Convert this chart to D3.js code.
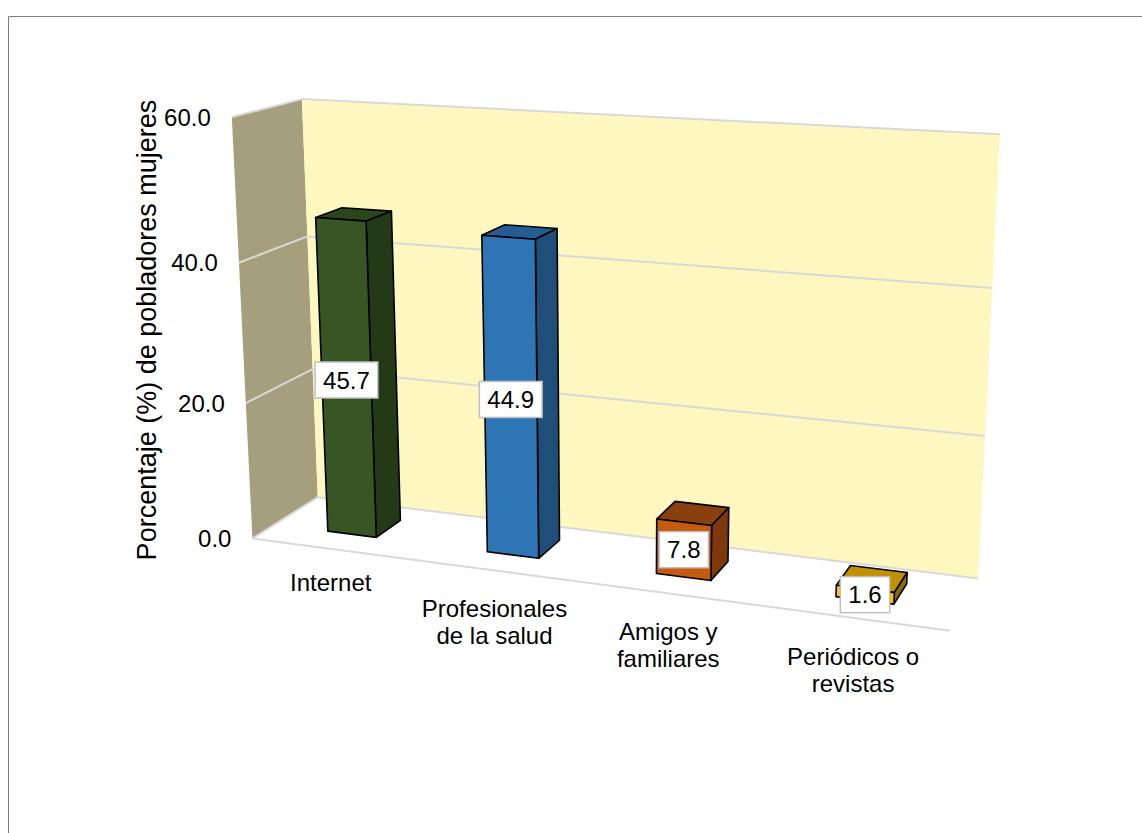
<!DOCTYPE html>
<html>
<head>
<meta charset="utf-8">
<script src="https://cdn.jsdelivr.net/npm/d3@7"></script>
<style>
  html, body { margin: 0; padding: 0; background: #ffffff; }
  svg { display: block; font-family: "Liberation Sans", Arial, Helvetica, sans-serif; }
</style>
</head>
<body>
<svg id="chart" width="1142" height="833"></svg>
<script>
// ---- data ----
const categories = ["Internet", "Profesionales de la salud", "Amigos y familiares", "Periódicos o revistas"];
const categoryLines = [["Internet"], ["Profesionales", "de la salud"], ["Amigos y", "familiares"], ["Periódicos o", "revistas"]];
const values = [45.7, 44.9, 7.8, 1.6];
const yTicks = [0, 20, 40, 60];

// ---- colours per bar: front / right side / top ----
const frontColors = ["#375623", "#2E75B6", "#C55A11", "#FFC000"];
const sideColors  = ["#243a16", "#1F4E79", "#7E380C", "#8C6A00"];
const topColors   = ["#2c461c", "#245d93", "#8A3F0E", "#BF9000"];

const W = 1142, H = 833;
const svg = d3.select("#chart");

// ---- 3D world: x across categories [0,1], y value [0,1], z depth front(0)->back(1) ----
const x = d3.scaleBand().domain(categories).range([0, 1]).paddingInner(0.69).paddingOuter(0.345);
const y = d3.scaleLinear().domain([0, 60]).range([0, 1]);
const barZ = [0.33, 0.73];

// perspective camera: 3x4 projective matrix solved from the corners of the plot box
const frame = [
  [0, 0, 0, 252, 538],
  [0, 0, 1, 318, 498],
  [1, 0, 1, 978, 578],
  [1, 0, 0, 950, 631],
  [0, 1, 0, 232, 117],
  [0, 1, 1, 301.7, 100],
  [1, 1, 1, 1000, 134.3],
  [0, 2 / 3, 0, 238.3, 262.7],
  [0, 2 / 3, 1, 307.3, 235],
  [0, 1 / 3, 0, 246.7, 403.3]
];

function solveCamera(pairs) {
  const s = 1000; // normalise screen units
  const rows = [], rhs = [];
  for (const [X, Y, Z, u0, v0] of pairs) {
    const u = u0 / s, v = v0 / s;
    rows.push([X, Y, Z, 1, 0, 0, 0, 0, -u * X, -u * Y, -u * Z]); rhs.push(u);
    rows.push([0, 0, 0, 0, X, Y, Z, 1, -v * X, -v * Y, -v * Z]); rhs.push(v);
  }
  const n = 11;
  const M = Array.from({ length: n }, () => new Array(n + 1).fill(0));
  rows.forEach((r, k) => {
    for (let i = 0; i < n; i++) {
      for (let j = 0; j < n; j++) M[i][j] += r[i] * r[j];
      M[i][n] += r[i] * rhs[k];
    }
  });
  for (let c = 0; c < n; c++) {
    let piv = c;
    for (let r = c + 1; r < n; r++) if (Math.abs(M[r][c]) > Math.abs(M[piv][c])) piv = r;
    [M[c], M[piv]] = [M[piv], M[c]];
    for (let r = 0; r < n; r++) {
      if (r === c) continue;
      const f = M[r][c] / M[c][c];
      for (let k = c; k <= n; k++) M[r][k] -= f * M[c][k];
    }
  }
  const p = M.map((row, i) => row[n] / row[i]);
  return function (X, Y, Z) {
    const w = p[8] * X + p[9] * Y + p[10] * Z + 1;
    return [s * (p[0] * X + p[1] * Y + p[2] * Z + p[3]) / w,
            s * (p[4] * X + p[5] * Y + p[6] * Z + p[7]) / w];
  };
}
const project = solveCamera(frame);
const poly = pts => "M" + pts.map(q => project(q[0], q[1], q[2]).join(",")).join("L") + "Z";
const seg = (a, b) => {
  const p0 = project(...a), p1 = project(...b);
  return `M${p0[0]},${p0[1]}L${p1[0]},${p1[1]}`;
};

// ---- outer border ----
svg.append("path").attr("d", `M8.5,${H}L8.5,16.5L${W},16.5`)
  .attr("fill", "none").attr("stroke", "#7f7f7f").attr("stroke-width", 1);

// ---- walls ----
svg.append("path").attr("d", poly([[0, 0, 0], [0, 0, 1], [0, 1, 1], [0, 1, 0]]))
  .attr("fill", "#A59F7D");
svg.append("path").attr("d", poly([[0, 0, 1], [1, 0, 1], [1, 1, 1], [0, 1, 1]]))
  .attr("fill", "#FFF7C0");

// ---- gridlines on the side and back walls ----
const grid = svg.append("g").attr("fill", "none").attr("stroke", "#D9D9D9").attr("stroke-width", 2);
yTicks.forEach(t => {
  const v = y(t);
  grid.append("path").attr("d", seg([0, v, 0], [0, v, 1]));
  grid.append("path").attr("d", seg([0, v, 1], [1, v, 1]));
});
// floor front edge
grid.append("path").attr("d", seg([0, 0, 0], [1, 0, 0]));

// ---- y tick labels ----
svg.append("g").selectAll("text").data(yTicks).join("text")
  .attr("x", d => project(0, y(d), 0)[0] - 21)
  .attr("y", d => project(0, y(d), 0)[1])
  .attr("text-anchor", "end").attr("dominant-baseline", "central")
  .attr("font-size", 24).attr("fill", "#000")
  .text(d3.format(".1f"));

// ---- y axis title ----
svg.append("text")
  .attr("transform", "translate(147,330) rotate(-90)")
  .attr("text-anchor", "middle").attr("dominant-baseline", "central")
  .attr("font-size", 27).attr("fill", "#000")
  .text("Porcentaje (%) de pobladores mujeres");

// ---- 3D bars ----
const bars = svg.append("g");
values.forEach((val, i) => {
  const x0 = x(categories[i]), x1 = x0 + x.bandwidth();
  const h = y(val), [z0, z1] = barZ;
  const g = bars.append("g").attr("stroke", "#000").attr("stroke-width", 1.6).attr("stroke-linejoin", "round");
  g.append("path").attr("d", poly([[x0, h, z0], [x1, h, z0], [x1, h, z1], [x0, h, z1]])).attr("fill", topColors[i]);
  g.append("path").attr("d", poly([[x1, 0, z0], [x1, 0, z1], [x1, h, z1], [x1, h, z0]])).attr("fill", sideColors[i]);
  g.append("path").attr("d", poly([[x0, 0, z0], [x1, 0, z0], [x1, h, z0], [x0, h, z0]])).attr("fill", frontColors[i]);
});

// ---- value labels ----
const fmt = d3.format(".1f");
values.forEach((val, i) => {
  const xc = x(categories[i]) + x.bandwidth() / 2;
  const [cx, cy] = project(xc, y(val) / 2, barZ[0]);
  const g = svg.append("g").attr("transform", `translate(${cx},${cy})`);
  const t = g.append("text").attr("text-anchor", "middle").attr("dominant-baseline", "central")
    .attr("font-size", 24).attr("fill", "#000").text(fmt(val));
  const tw = t.node().getComputedTextLength();
  g.insert("rect", "text")
    .attr("x", -tw / 2 - 8).attr("y", -18).attr("width", tw + 16).attr("height", 36)
    .attr("fill", "#fff").attr("stroke", "#BFBFBF").attr("stroke-width", 1.5);
});

// ---- category labels ----
categoryLines.forEach((lines, i) => {
  const xc = x(categories[i]) + x.bandwidth() / 2;
  const [ax, ay] = project(xc, 0, 0);
  const t = svg.append("text").attr("text-anchor", "middle").attr("font-size", 24).attr("fill", "#000");
  const first = lines.length > 1 ? 47 : 42;
  lines.forEach((ln, k) => {
    t.append("tspan").attr("x", ax).attr("y", ay + first + k * 27).text(ln);
  });
});
</script>
</body>
</html>
